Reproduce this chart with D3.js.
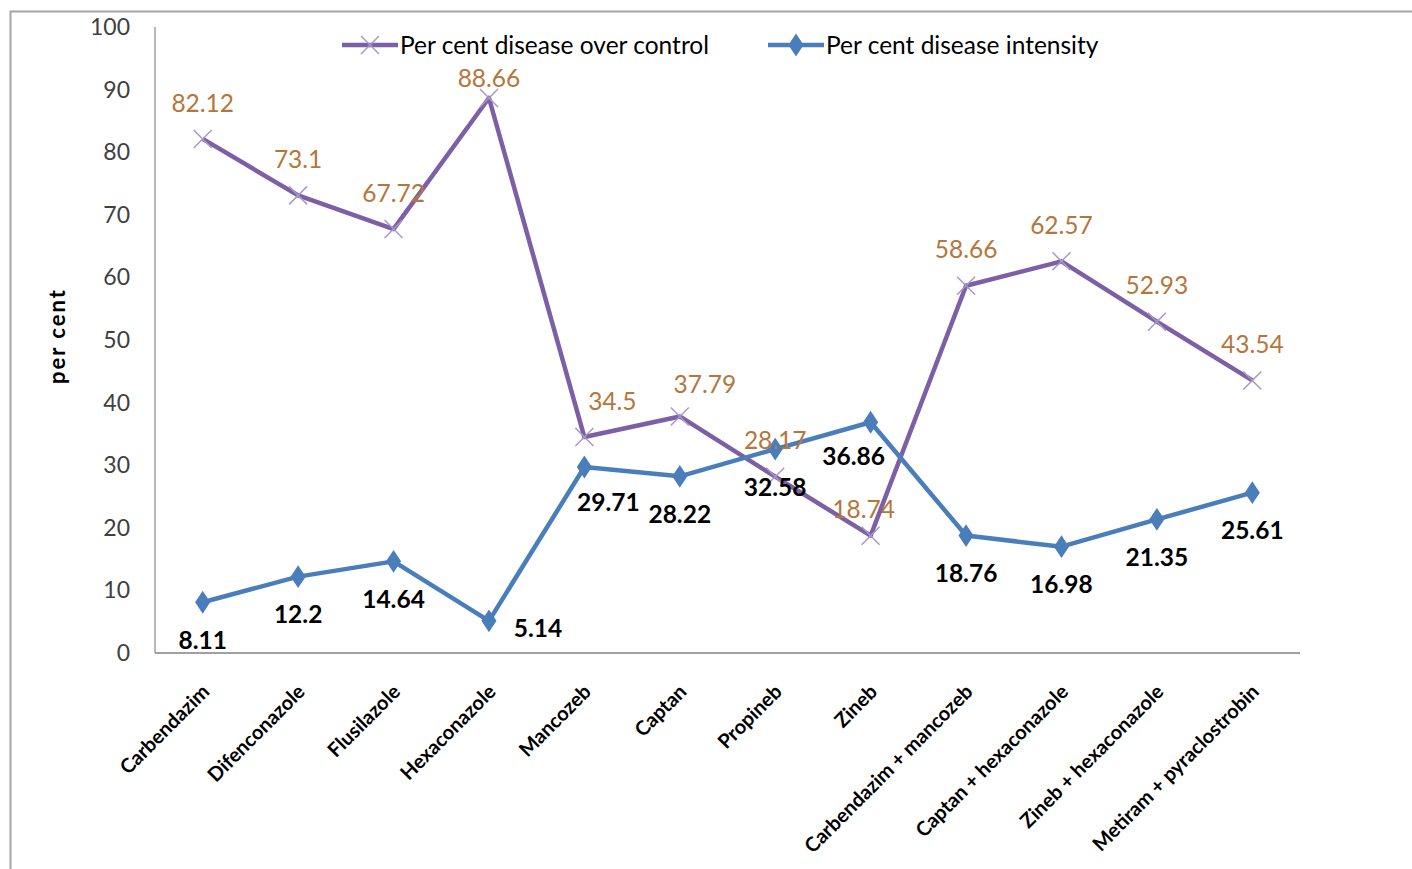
<!DOCTYPE html>
<html><head><meta charset="utf-8">
<script src="https://cdn.jsdelivr.net/npm/d3@7"></script>
<style>body{margin:0;background:#fff}svg{display:block}</style>
</head><body>
<script>
const categories = ["Carbendazim","Difenconazole","Flusilazole","Hexaconazole","Mancozeb","Captan","Propineb","Zineb","Carbendazim + mancozeb","Captan + hexaconazole","Zineb + hexaconazole","Metiram +  pyraclostrobin"];
const overControl = [82.12,73.1,67.72,88.66,34.5,37.79,28.17,18.74,58.66,62.57,52.93,43.54];
const intensity = [8.11,12.2,14.64,5.14,29.71,28.22,32.58,36.86,18.76,16.98,21.35,25.61];
const yTicks = [0,10,20,30,40,50,60,70,80,90,100];
const seriesNames = ["Per cent disease over control","Per cent disease intensity"];
// label nudges (dx, dy) for manually placed labels
const purpleNudge = [[0,0],[0,0],[0,0],[0,16],[28,0],[25,4],[0,0],[-7,10],[0,0],[0,0],[0,0],[0,0]];
const blueNudge = [[0,0],[0,0],[0,0],[49,-30],[24,-3],[0,0],[0,0],[-17,-4],[0,0],[0,0],[0,0],[0,0]];

const W=1412,H=869;
const font="Lato, 'Open Sans', sans-serif";
const svg=d3.select("body").append("svg").attr("width",W).attr("height",H);
const purple="#7d5fa6", purpleMk="#a898c8", blue="#4a7ebb", lblBrown="#b5763c";

// outer frame
svg.append("path").attr("d",`M10.5,${H}V11.5H${W}`).attr("fill","none").attr("stroke","#a6a6a6").attr("stroke-width",2);

const x=d3.scaleBand().domain(categories).range([155,1300]);
const y=d3.scaleLinear().domain([0,100]).range([653,27]);
const cx=d=>x(d)+x.bandwidth()/2;

// axes lines
svg.append("line").attr("x1",155).attr("x2",155).attr("y1",y(100)).attr("y2",y(0)).attr("stroke","#a0a0a0").attr("stroke-width",1.5);
svg.append("line").attr("x1",155).attr("x2",1300).attr("y1",y(0)).attr("y2",y(0)).attr("stroke","#a0a0a0").attr("stroke-width",2);

// y tick labels
svg.append("g").selectAll("text").data(yTicks).join("text")
  .attr("x",130).attr("y",d=>y(d)).attr("dy","0.35em").attr("text-anchor","end")
  .attr("font-family",font).attr("font-size",23).attr("fill","#404040").text(d=>d);

// y title
svg.append("text").attr("transform","translate(65,336) rotate(-90)").attr("text-anchor","middle")
  .attr("font-family",font).attr("font-size",22).attr("font-weight","bold").attr("letter-spacing",2).attr("fill","#000").text("per cent");

// x labels
svg.append("g").selectAll("text").data(categories).join("text")
  .attr("transform",d=>`translate(${cx(d)+8},${y(0)+40}) rotate(-45)`).attr("text-anchor","end")
  .attr("font-family",font).attr("font-size",20).attr("font-weight","bold").attr("fill","#000").text(d=>d);

const line=d3.line().x((d,i)=>cx(categories[i])).y(d=>y(d));

// purple series
svg.append("path").datum(overControl).attr("d",line).attr("fill","none").attr("stroke",purple).attr("stroke-width",4.5).attr("stroke-linejoin","round");
const xs=9;
svg.append("g").selectAll("path").data(overControl).join("path")
  .attr("d",(d,i)=>{const px=cx(categories[i]),py=y(d);return `M${px-xs},${py-xs}L${px+xs},${py+xs}M${px-xs},${py+xs}L${px+xs},${py-xs}`;})
  .attr("stroke",purpleMk).attr("stroke-width",1.5).attr("fill","none");

// blue series
svg.append("path").datum(intensity).attr("d",line).attr("fill","none").attr("stroke",blue).attr("stroke-width",4.5).attr("stroke-linejoin","round");
const sym=d3.symbol().type(d3.symbolDiamond).size(150);
svg.append("g").selectAll("path").data(intensity).join("path")
  .attr("transform",(d,i)=>`translate(${cx(categories[i])},${y(d)}) scale(1.15,1)`).attr("d",sym).attr("fill",blue);

// labels
svg.append("g").selectAll("text").data(overControl).join("text")
  .attr("x",(d,i)=>cx(categories[i])+purpleNudge[i][0]).attr("y",(d,i)=>y(d)-36+purpleNudge[i][1]).attr("dy","0.35em")
  .attr("text-anchor","middle").attr("font-family",font).attr("font-size",24.5).attr("fill",lblBrown).text(d=>d);
svg.append("g").selectAll("text").data(intensity).join("text")
  .attr("x",(d,i)=>cx(categories[i])+blueNudge[i][0]).attr("y",(d,i)=>y(d)+38+blueNudge[i][1]).attr("dy","0.35em")
  .attr("text-anchor","middle").attr("font-family",font).attr("font-size",24.5).attr("font-weight","bold").attr("fill","#000").text(d=>d);

// legend
const lg=svg.append("g");
lg.append("line").attr("x1",342).attr("x2",398).attr("y1",45).attr("y2",45).attr("stroke",purple).attr("stroke-width",4.5);
lg.append("path").attr("d",`M${370-xs},${45-xs}L${370+xs},${45+xs}M${370-xs},${45+xs}L${370+xs},${45-xs}`).attr("stroke",purpleMk).attr("stroke-width",1.5);
lg.append("text").attr("x",400).attr("y",45).attr("dy","0.35em").attr("font-family",font).attr("font-size",24.5).attr("fill","#000").text(seriesNames[0]);
lg.append("line").attr("x1",768).attr("x2",824).attr("y1",45).attr("y2",45).attr("stroke",blue).attr("stroke-width",4.5);
lg.append("path").attr("transform","translate(796,45) scale(1.15,1)").attr("d",sym).attr("fill",blue);
lg.append("text").attr("x",826).attr("y",45).attr("dy","0.35em").attr("font-family",font).attr("font-size",24.5).attr("fill","#000").text(seriesNames[1]);
</script>
</body></html>
